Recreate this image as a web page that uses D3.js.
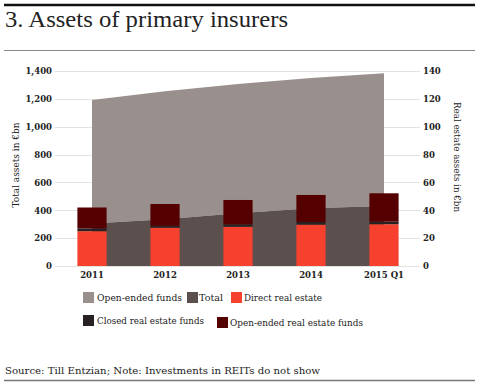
<!DOCTYPE html>
<html><head><meta charset="utf-8">
<script src="https://cdn.jsdelivr.net/npm/d3@7"></script>
<style>body{margin:0;background:#fff}svg{display:block}</style>
</head><body>
<script>
const years = ["2011","2012","2013","2014","2015 Q1"];
const totalAssets = [305, 335, 378, 415, 430];
const openEndedFunds = [887, 920, 929, 935, 953];
const directRealEstate = [25, 27.5, 28.2, 29.7, 30];
const closedRealEstateFunds = [2, 1.3, 1.7, 1.9, 1.8];
const openEndedRealEstateFunds = [15, 15.7, 17.5, 19.4, 20.4];
const leftTicks = [0,200,400,600,800,1000,1200,1400];
const rightTicks = [0,20,40,60,80,100,120,140];

const W=480,H=385;
const svg=d3.select("body").append("svg").attr("width",W).attr("height",H);
const serif="'DejaVu Serif', serif";

// frame lines & title
svg.append("line").attr("x1",4).attr("x2",475).attr("y1",5).attr("y2",5).attr("stroke","#111").attr("stroke-width",2.5);
svg.append("text").attr("x",5).attr("y",27).text("3. Assets of primary insurers")
  .attr("font-family","'Liberation Serif', serif").attr("font-size",23).attr("fill","#222")
  .attr("textLength",283).attr("lengthAdjust","spacingAndGlyphs");
svg.append("line").attr("x1",4).attr("x2",475).attr("y1",50.5).attr("y2",50.5).attr("stroke","#888").attr("stroke-width",1);

const x=d3.scaleBand().domain(years).range([55.5,420.5]).paddingInner(0.6).paddingOuter(0.3);
const yL=d3.scaleLinear().domain([0,1400]).range([266,71]);
const yR=d3.scaleLinear().domain([0,140]).range([266,71]);
const cx=d=>x(d)+x.bandwidth()/2;

// grid
svg.append("g").selectAll("line").data(leftTicks).join("line")
  .attr("x1",55).attr("x2",420).attr("y1",d=>Math.round(yL(d))+0.5).attr("y2",d=>Math.round(yL(d))+0.5)
  .attr("stroke","#e3e3e3").attr("stroke-width",1);

// axes
const axL=svg.append("g").attr("transform","translate(55,0)")
  .call(d3.axisLeft(yL).tickValues(leftTicks).tickFormat(d3.format(",")).tickSize(0).tickPadding(3));
const axR=svg.append("g").attr("transform","translate(420,0)")
  .call(d3.axisRight(yR).tickValues(rightTicks).tickSize(0).tickPadding(3));
const axB=svg.append("g").attr("transform","translate(0,266)")
  .call(d3.axisBottom(x).tickSize(0).tickPadding(6));
[axL,axR,axB].forEach(a=>{a.select(".domain").remove();
  a.selectAll("text").attr("font-family",serif).attr("font-size",8.5).attr("fill","#222").attr("font-weight","bold");});

// stacked areas
const areaRows=years.map((y,i)=>({year:y,total:totalAssets[i],funds:openEndedFunds[i]}));
const stackA=d3.stack().keys(["total","funds"])(areaRows);
const areaColors={total:"#5b504e",funds:"#998f8c"};
const area=d3.area().x(d=>cx(d.data.year)).y0(d=>yL(d[0])).y1(d=>yL(d[1]));
svg.append("g").selectAll("path").data(stackA.slice().reverse()).join("path")
  .attr("d",area).attr("fill",d=>areaColors[d.key]);

// stacked bars
const barRows=years.map((y,i)=>({year:y,direct:directRealEstate[i],closed:closedRealEstateFunds[i],openre:openEndedRealEstateFunds[i]}));
const stackB=d3.stack().keys(["direct","closed","openre"])(barRows);
const barColors={direct:"#f5412d",closed:"#272122",openre:"#550000"};
svg.append("g").selectAll("g").data(stackB).join("g").attr("fill",d=>barColors[d.key])
  .selectAll("rect").data(d=>d).join("rect")
  .attr("x",d=>x(d.data.year)).attr("width",x.bandwidth())
  .attr("y",d=>yR(d[1])).attr("height",d=>yR(d[0])-yR(d[1]));

// axis titles
svg.append("text").attr("transform","translate(19,165) rotate(-90)").attr("text-anchor","middle")
  .attr("font-family",serif).attr("font-size",9).attr("fill","#222").attr("textLength",85).attr("lengthAdjust","spacingAndGlyphs")
  .text("Total assets in €bn");
svg.append("text").attr("transform","translate(454,157) rotate(90)").attr("text-anchor","middle")
  .attr("font-family",serif).attr("font-size",9).attr("fill","#222").attr("textLength",110).attr("lengthAdjust","spacingAndGlyphs")
  .text("Real estate assets in €bn");

// legend
const legend=[
  {label:"Open-ended funds",color:areaColors.funds,x:83,y:292,tx:97,ty:301,w:85},
  {label:"Total",color:areaColors.total,x:187,y:292,tx:199,ty:301,w:24},
  {label:"Direct real estate",color:barColors.direct,x:231,y:292,tx:244,ty:301,w:78},
  {label:"Closed real estate funds",color:barColors.closed,x:83,y:315,tx:97,ty:323.5,w:107},
  {label:"Open-ended real estate funds",color:barColors.openre,x:217,y:317,tx:230,ty:325.5,w:133}
];
const lg=svg.append("g").selectAll("g").data(legend).join("g");
lg.append("rect").attr("x",d=>d.x).attr("y",d=>d.y).attr("width",11).attr("height",11).attr("fill",d=>d.color);
lg.append("text").attr("x",d=>d.tx).attr("y",d=>d.ty).text(d=>d.label)
  .attr("font-family",serif).attr("font-size",9.5).attr("fill","#222")
  .attr("textLength",d=>d.w).attr("lengthAdjust","spacingAndGlyphs");

// source
svg.append("text").attr("x",5).attr("y",374).text("Source: Till Entzian; Note: Investments in REITs do not show")
  .attr("font-family",serif).attr("font-size",10).attr("fill","#222")
  .attr("textLength",315).attr("lengthAdjust","spacingAndGlyphs");
svg.append("line").attr("x1",4).attr("x2",475).attr("y1",380.5).attr("y2",380.5).attr("stroke","#777").attr("stroke-width",1.5);
</script>
</body></html>
